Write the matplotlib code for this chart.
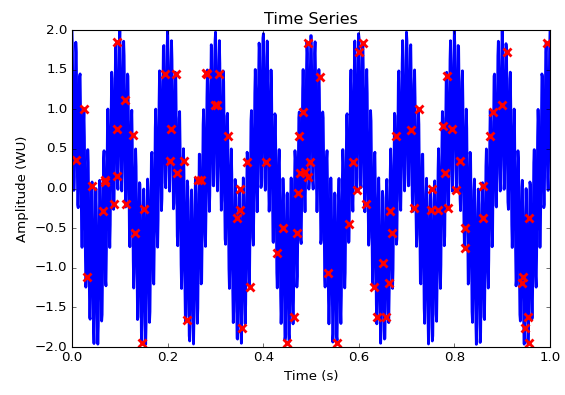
import numpy as np
import matplotlib
matplotlib.use('Agg')
import matplotlib.pyplot as plt

plt.style.use('classic')

# Signal components (cosines): 10 Hz envelope + 120 Hz ripple
freqs_hz = [10, 120]
amplitudes = [1.0, 1.0]
n_points = 1000

# Irregular samples (red crosses): time (s) and amplitude (WU)
sample_t = [0.008, 0.025, 0.031, 0.042, 0.065, 0.069, 0.069, 0.088, 0.094, 0.094,
            0.094, 0.111, 0.113, 0.128, 0.132, 0.146, 0.151, 0.195, 0.207, 0.205,
            0.218, 0.220, 0.234, 0.241, 0.264, 0.270, 0.280, 0.283, 0.299, 0.303,
            0.308, 0.326, 0.345, 0.351, 0.351, 0.356, 0.366, 0.372, 0.406, 0.429,
            0.441, 0.450, 0.464, 0.470, 0.473, 0.475, 0.477, 0.483, 0.487, 0.494,
            0.494, 0.498, 0.519, 0.536, 0.554, 0.580, 0.588, 0.596, 0.600, 0.609,
            0.615, 0.632, 0.638, 0.651, 0.657, 0.663, 0.665, 0.669, 0.678, 0.709,
            0.715, 0.726, 0.751, 0.753, 0.766, 0.776, 0.780, 0.785, 0.787, 0.795,
            0.803, 0.812, 0.822, 0.822, 0.860, 0.860, 0.874, 0.881, 0.900, 0.910,
            0.941, 0.944, 0.948, 0.954, 0.956, 0.956, 0.994]
sample_y = [0.36, 1.00, -1.12, 0.03, -0.28, 0.11, 0.08, -0.20, 1.85, 0.75,
            0.16, 1.12, -0.20, 0.68, -0.56, -1.95, -0.26, 1.45, 0.75, 0.35,
            1.45, 0.20, 0.35, -1.66, 0.11, 0.11, 1.46, 1.44, 1.05, 1.05,
            1.44, 0.66, -0.37, -0.01, -0.27, -1.76, 0.33, -1.24, 0.33, -0.82,
            -0.50, -1.95, -1.62, -0.56, -0.06, 0.66, 0.19, 0.96, 0.21, 1.84,
            0.15, 0.33, 1.41, -1.07, -1.95, -0.45, 0.33, -0.02, 1.72, 1.84,
            -0.20, -1.24, -1.62, -0.94, -1.62, -1.19, -0.28, -0.56, 0.66, 0.74,
            -0.25, 1.00, -0.27, -0.01, -0.27, 0.79, 0.19, 1.42, -0.25, 0.75,
            -0.02, 0.35, -0.50, -0.75, 0.03, -0.37, 0.66, 0.96, 1.05, 1.72,
            -1.19, -1.12, -1.76, -1.62, -0.37, -1.95, 1.84]

t = np.linspace(0, 1, n_points)
signal = np.zeros_like(t)
for f, a in zip(freqs_hz, amplitudes):
    signal += a * np.cos(2 * np.pi * f * t)

fig = plt.figure(figsize=(565 / 80, 395 / 80), dpi=80)
ax = fig.add_axes([0.1274, 0.1215, 0.8461, 0.8025])

ax.plot(t, signal, 'b-', linewidth=2.5)
ax.plot(sample_t, sample_y, 'rx', markersize=7, markeredgewidth=2.5)

ax.set_title('Time Series')
ax.set_xlabel('Time (s)')
ax.set_ylabel('Amplitude (WU)')
ax.set_xlim(0, 1)
ax.set_ylim(-2, 2)

fig.savefig('out.png', dpi=80)
